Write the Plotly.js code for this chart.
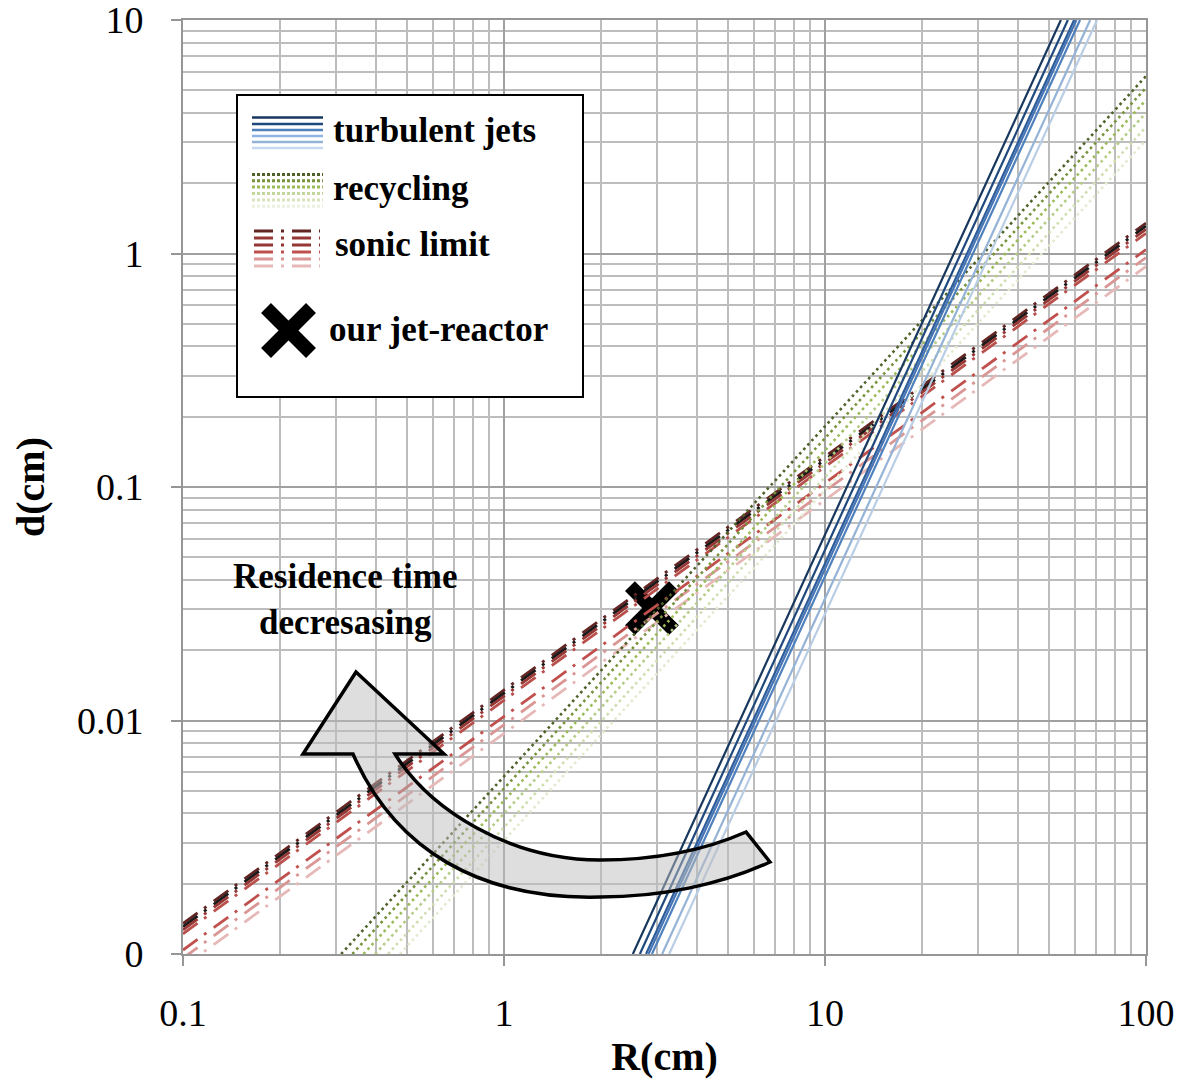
<!DOCTYPE html>
<html><head><meta charset="utf-8">
<script src="https://cdn.plot.ly/plotly-3.0.1.min.js"></script>
<style>html,body{margin:0;padding:0;background:#fff}</style>
</head><body><div id="chart" style="width:1188px;height:1079px"></div>
<script>
// ---------- DATA ----------
// Turbulent jets (solid blue): R where d = 0.001 and R where d = 10
const jetD = [0.001, 10];
const jetRLow = [2.52, 2.65, 2.77, 2.82, 2.89, 3.11, 3.27];
const jetRHigh = [54.3, 57.1, 59.7, 60.7, 62.3, 67.0, 70.4];
const jetColors = ['#17375E', '#1F497D', '#2E5C99', '#4474B5', '#4F81BD', '#95B3D7', '#B9CDE5'];

// Recycling (dotted green): start at d = 0.001 (R given), end at R = 100 (d given)
const recDLow = 0.001;
const recRLow = [0.311, 0.337, 0.365, 0.397, 0.435, 0.474];
const recRHigh = 100;
const recDHigh = [5.75, 5.12, 4.54, 4.00, 3.48, 3.06];
const recColors = ['#4F6228', '#77933C', '#9BBB59', '#B5CC85', '#CFDEAE', '#E2EBD0'];

// Sonic limit (dash-dot red): d at R = 0.1 and at R = 100
const sonicR = [0.1, 100];
const sonicDLow = [0.00135, 0.00131, 0.00127, 0.00122, 0.00104, 0.00096, 0.00088];
const sonicDHigh = [1.35, 1.31, 1.27, 1.22, 1.04, 0.96, 0.88];
const sonicColors = ['#632523', '#1A1A1A', '#953735', '#B9504C', '#C0504D', '#D99694', '#E6B9B8'];

// Our jet-reactor
const reactorR = [2.89];
const reactorD = [0.0303];

// Axis ticks
const xTickVals = [0.1, 1, 10, 100];
const xTickText = ['0.1', '1', '10', '100'];
const yTickVals = [0.001, 0.01, 0.1, 1, 10];
const yTickText = ['0', '0.01', '0.1', '1', '10'];

// Legend & labels
const legendLabels = ['turbulent jets', 'recycling', 'sonic limit', 'our jet-reactor'];
const xTitle = 'R(cm)';
const yTitle = 'd(cm)';
const arrowText = 'Residence time<br>decresasing';

// ---------- CHART ----------
const W = 1188, H = 1079, PL = 183, PR = 1146, PT = 20, PB = 954;
const px = x => (x - PL) / (PR - PL);
const py = y => (PB - y) / (PB - PT);
const P = (x, y) => px(x).toFixed(5) + ',' + py(y).toFixed(5);

const serif = 'Liberation Serif, Times New Roman, serif';
const DASHDOT = '18px,8px,3px,9px';

const traces = [];
traces.push({
  x: reactorR, y: reactorD, mode: 'markers', type: 'scatter', showlegend: false, hoverinfo: 'skip',
  marker: {symbol: 'x-thin', size: 44, color: '#000', line: {color: '#000', width: 14}}
});
sonicDLow.forEach((d0, i) => traces.push({
  x: sonicR, y: [d0, sonicDHigh[i]], mode: 'lines', type: 'scatter', showlegend: false, hoverinfo: 'skip',
  line: {color: sonicColors[i], width: 2.8, dash: DASHDOT}
}));
recRLow.forEach((r0, i) => traces.push({
  x: [r0, recRHigh], y: [recDLow, recDHigh[i]], mode: 'lines', type: 'scatter', showlegend: false, hoverinfo: 'skip',
  line: {color: recColors[i], width: 2.6, dash: '2.6px,3.4px'}
}));
jetRLow.forEach((r0, i) => traces.push({
  x: [r0, jetRHigh[i]], y: jetD, mode: 'lines', type: 'scatter', showlegend: false, hoverinfo: 'skip',
  line: {color: jetColors[i], width: 2.2}
}));

const minorX = [], minorY = [];
[0.1, 1, 10].forEach(b => { for (let k = 2; k <= 9; k++) minorX.push(b * k); });
[0.001, 0.01, 0.1, 1].forEach(b => { for (let k = 2; k <= 9; k++) minorY.push(b * k); });

const shapes = [];
// arrow
shapes.push({
  type: 'path', xref: 'paper', yref: 'paper', layer: 'above',
  path: 'M' + P(356, 672) + ' L' + P(444, 754) + ' L' + P(395, 754) +
        ' C' + P(430, 810) + ' ' + P(510, 860) + ' ' + P(600, 860) +
        ' C' + P(660, 860) + ' ' + P(710, 848) + ' ' + P(746, 832) +
        ' L' + P(770, 862) +
        ' C' + P(720, 885) + ' ' + P(660, 897) + ' ' + P(600, 897) +
        ' C' + P(480, 900) + ' ' + P(395, 850) + ' ' + P(353, 754) +
        ' L' + P(303, 754) + ' Z',
  fillcolor: 'rgba(190,190,190,0.5)', line: {color: '#000', width: 3.5}
});
// legend box
shapes.push({type: 'rect', xref: 'paper', yref: 'paper', layer: 'above',
  x0: px(237), x1: px(583), y0: py(95), y1: py(397), fillcolor: '#fff', line: {color: '#000', width: 2}});
const legJetY = [117.5, 124, 130, 136, 142, 148];
const legJetC = ['#17375E', '#1F497D', '#4F81BD', '#8EB4E3', '#95B3D7', '#C6D9F1'];
legJetY.forEach((y, i) => shapes.push({type: 'line', xref: 'paper', yref: 'paper', layer: 'above',
  x0: px(252), x1: px(323), y0: py(y), y1: py(y), line: {color: legJetC[i], width: 2.5}}));
const legRecY = [174.5, 180.7, 187, 193.5, 200, 206.3];
const legRecC = ['#4F6228', '#77933C', '#9BBB59', '#C3D69B', '#D7E4BD', '#EBF1DE'];
legRecY.forEach((y, i) => shapes.push({type: 'line', xref: 'paper', yref: 'paper', layer: 'above',
  x0: px(252), x1: px(323), y0: py(y), y1: py(y), line: {color: legRecC[i], width: 3, dash: '3px,2px'}}));
const legSonY = [231, 238, 245, 252, 259, 266];
const legSonC = ['#632523', '#953735', '#953735', '#C0504D', '#D99694', '#E6B9B8'];
legSonY.forEach((y, i) => shapes.push({type: 'line', xref: 'paper', yref: 'paper', layer: 'above',
  x0: px(254), x1: px(320), y0: py(y), y1: py(y), line: {color: legSonC[i], width: 3, dash: '19px,8px,3px,8px'}}));
// legend X
shapes.push({type: 'line', xref: 'paper', yref: 'paper', layer: 'above',
  x0: px(266), y0: py(308), x1: px(311), y1: py(353), line: {color: '#000', width: 14}});
shapes.push({type: 'line', xref: 'paper', yref: 'paper', layer: 'above',
  x0: px(311), y0: py(308), x1: px(266), y1: py(353), line: {color: '#000', width: 14}});

const legY = [130, 188, 244, 330];
const legX = [331, 331, 333, 327];
const annotations = legendLabels.map((t, i) => ({
  text: '<b>' + t + '</b>', xref: 'paper', yref: 'paper', x: px(legX[i]), y: py(legY[i]),
  xanchor: 'left', yanchor: 'middle', showarrow: false,
  font: {family: serif, size: 35, color: '#000'}
}));
annotations.push({
  text: '<b>' + arrowText + '</b>', xref: 'paper', yref: 'paper', x: px(345), y: py(599),
  xanchor: 'center', yanchor: 'middle', showarrow: false, align: 'center',
  font: {family: serif, size: 35, color: '#000'}
});

const axisCommon = {
  type: 'log', showgrid: true, gridcolor: '#A0A0A0', gridwidth: 2,
  showline: true, linecolor: '#969696', linewidth: 2, mirror: true,
  ticks: 'outside', ticklen: 10, tickwidth: 2, tickcolor: '#969696',
  zeroline: false, tickmode: 'array', ticklabeloverflow: 'allow',
  tickfont: {family: serif, size: 38, color: '#000'}
};

const layout = {
  width: W, height: H,
  margin: {l: PL, r: W - PR, t: PT, b: H - PB},
  paper_bgcolor: '#fff', plot_bgcolor: '#fff',
  showlegend: false,
  xaxis: Object.assign({}, axisCommon, {
    range: [-1, 2], tickvals: xTickVals, ticktext: xTickText, ticklabelstandoff: 14,
    minor: {tickmode: 'array', tickvals: minorX, showgrid: true, gridcolor: '#BDBDBD', gridwidth: 2, ticks: ''},
    title: {text: '<b>' + xTitle + '</b>', font: {family: serif, size: 40, color: '#000'}, standoff: 20}
  }),
  yaxis: Object.assign({}, axisCommon, {
    range: [-3, 1], tickvals: yTickVals, ticktext: yTickText, ticklabelstandoff: 20,
    minor: {tickmode: 'array', tickvals: minorY, showgrid: true, gridcolor: '#BDBDBD', gridwidth: 2, ticks: ''},
    title: {text: '<b>' + yTitle + '</b>', font: {family: serif, size: 40, color: '#000'}, standoff: 20}
  }),
  shapes: shapes,
  annotations: annotations
};

Plotly.newPlot('chart', traces, layout, {staticPlot: true, displayModeBar: false});
</script>
</body></html>
